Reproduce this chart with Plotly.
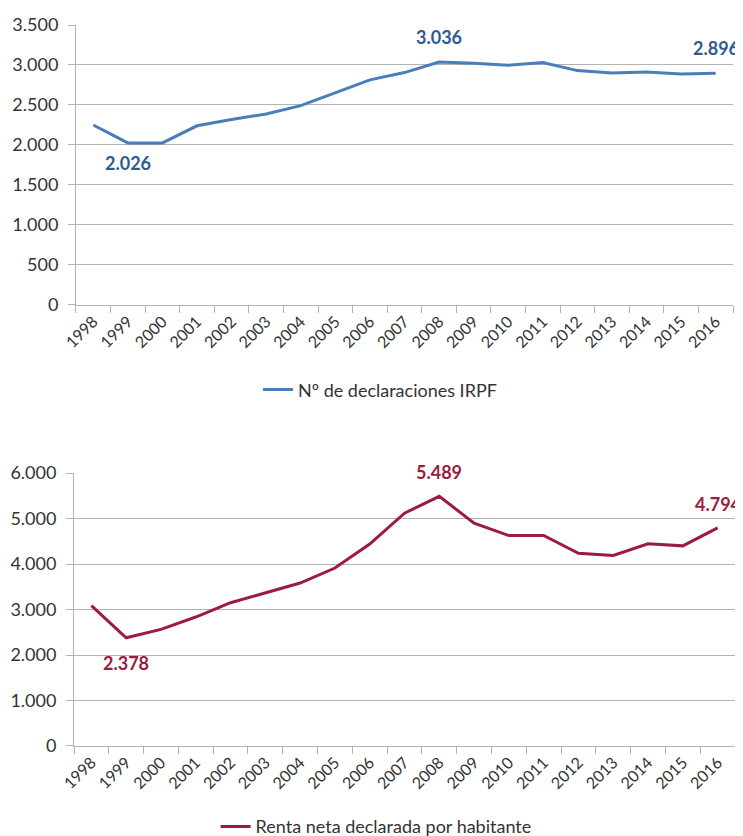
import plotly.graph_objects as go
from plotly.subplots import make_subplots

years = [str(y) for y in range(1998, 2017)]
declaraciones = [2250, 2026, 2026, 2240, 2318, 2388, 2492, 2657, 2814, 2905,
                 3036, 3021, 2996, 3030, 2930, 2901, 2913, 2888, 2896]
renta = [3084, 2378, 2564, 2835, 3150, 3363, 3582, 3912, 4440, 5117,
         5489, 4897, 4626, 4626, 4234, 4190, 4443, 4399, 4794]

# which points get a value label, and whether it sits above or below
lab_decl = {"1999": -1, "2008": 1, "2016": 1}
lab_renta = {"1999": -1, "2008": 1, "2016": 1}

_BLUE = "#4a7ebb"
_BLUE_TXT = "#2e5c8e"
_RED = "#9b1c3f"
_RED_TXT = "#9b1c3f"
_GRID = "#b3b3b3"
_TXT = "#333333"
_FONT = "Lato, 'Open Sans', sans-serif"


def _fmt(v):
    return f"{v:,}".replace(",", ".")


fig = make_subplots(rows=2, cols=1)

fig.add_trace(go.Scatter(x=years, y=declaraciones, mode="lines",
                         line=dict(color=_BLUE, width=3),
                         name="Nº de declaraciones IRPF", legend="legend"),
              row=1, col=1)
fig.add_trace(go.Scatter(x=years, y=renta, mode="lines",
                         line=dict(color=_RED, width=3),
                         name="Renta neta declarada por habitante", legend="legend2"),
              row=2, col=1)

# annotations on a category axis: give the category index, not the label
for yr, side in lab_decl.items():
    i = years.index(yr)
    v = declaraciones[i]
    fig.add_annotation(x=i, y=v, xref="x", yref="y", text=_fmt(v),
                       showarrow=False, yshift=25 if side > 0 else -20,
                       font=dict(color=_BLUE_TXT, size=18, family=_FONT, weight="bold"))
for yr, side in lab_renta.items():
    i = years.index(yr)
    v = renta[i]
    fig.add_annotation(x=i, y=v, xref="x2", yref="y2", text=_fmt(v),
                       showarrow=False, yshift=24 if side > 0 else -25,
                       font=dict(color=_RED_TXT, size=18, family=_FONT, weight="bold"))

axis_common = dict(showline=True, linecolor=_GRID, linewidth=1,
                   ticks="outside", tickcolor=_GRID, ticklen=7, automargin=False)
fig.update_xaxes(**axis_common, type="category", tickson="boundaries",
                 tickangle=-45, showgrid=False, range=[-0.5, len(years) - 0.5],
                 tickfont=dict(size=16, color=_TXT, family=_FONT))
fig.update_yaxes(**axis_common, showgrid=True, gridcolor=_GRID, gridwidth=1,
                 tickformat=",d", zeroline=False, ticklabelstandoff=6,
                 tickfont=dict(size=18, color=_TXT, family=_FONT))

# page body has an 8px margin; the figure runs a bit past the window bottom
# so the lower legend fits without plotly pushing the margin
fig.update_layout(
    width=735, height=850, separators=",.", showlegend=True,
    margin=dict(l=66, r=8, t=17, b=112),
    plot_bgcolor="white", paper_bgcolor="white",
    font=dict(family=_FONT, color=_TXT),
    xaxis=dict(domain=[0.003, 0.997]),
    yaxis=dict(domain=[0.6117, 1.0], range=[0, 3500], dtick=500),
    xaxis2=dict(domain=[0.0, 1.0]),
    yaxis2=dict(domain=[0.0, 0.3786], range=[0, 6000], dtick=1000),
    legend=dict(x=0.463, y=0.494, xanchor="center", yanchor="middle",
                font=dict(size=18, family=_FONT, color=_TXT)),
    legend2=dict(x=0.457, y=-0.112, xanchor="center", yanchor="middle",
                 font=dict(size=18, family=_FONT, color=_TXT)),
)

fig.write_html("out.html")
